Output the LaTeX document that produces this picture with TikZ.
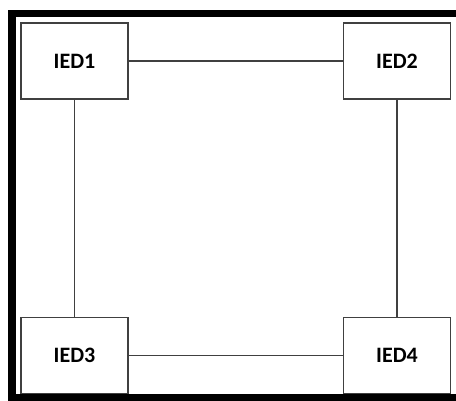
\documentclass[tikz,border=0pt]{standalone}
\usepackage{fontspec}
\setmainfont{Carlito}
\begin{document}
\begin{tikzpicture}[x=1pt,y=-1pt,
  ied/.style={draw=black!75, line width=1.6pt, fill=white, minimum width=107pt, minimum height=76pt, inner sep=0pt, font=\bfseries\fontsize{22}{26}\selectfont},
  link/.style={draw=black!75, line width=1.6pt}]
\useasboundingbox (0,0) rectangle (456,401);
\fill[white] (0,0) rectangle (456,401);
% frame
\fill[black] (8,10) rectangle (15.5,401);
\fill[black] (8,10) rectangle (456,17);
\fill[black] (8,394) rectangle (456,401);
% nodes
\node[ied] (i1) at (74.5,61) {IED1};
\node[ied] (i2) at (397,61) {IED2};
\node[ied] (i3) at (74.5,355.5) {IED3};
\node[ied] (i4) at (397,355.5) {IED4};
\draw[link] (i1) -- (i2);
\draw[link] (i3) -- (i4);
\draw[link] (i1) -- (i3);
\draw[link] (i2) -- (i4);
\end{tikzpicture}
\end{document}
